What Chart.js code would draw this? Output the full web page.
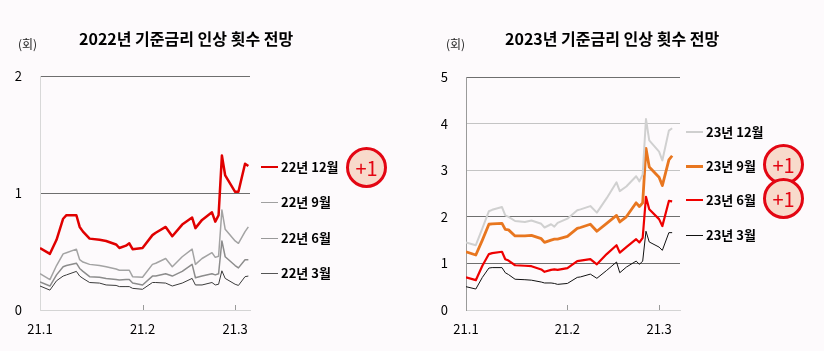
<!DOCTYPE html>
<html>
<head>
<meta charset="utf-8">
<script src="https://cdn.jsdelivr.net/npm/chart.js@4.4.1/dist/chart.umd.min.js"></script>
<style>
  html, body { margin: 0; padding: 0; background: #fdfafc; }
  body { width: 824px; height: 351px; position: relative; overflow: hidden;
         font-family: "Noto Sans CJK KR", "Noto Sans", sans-serif; color: #111; }
  canvas { position: absolute; top: 0; }
  .title { position: absolute; top: 26px; font-size: 16px; font-weight: bold; white-space: nowrap; color: #000; }
  .unit { position: absolute; top: 35px; font-size: 12px; color: #222; }
  .leg { position: absolute; font-size: 13px; line-height: 16px; white-space: nowrap; font-weight: bold; color: #000; }
  .leg i { display: inline-block; width: 17px; height: 2px; vertical-align: middle; margin-right: 3px; position: relative; top: -1px; }
  .badge { position: absolute; width: 35px; height: 35px; border: 3.5px solid #e30613; border-radius: 50%;
           background: #f8dacb; color: #e30613; font-size: 20px; line-height: 35px; text-align: center; }
</style>
</head>
<body>
<canvas id="c2022" width="412" height="351" style="left:0"></canvas>
<canvas id="c2023" width="412" height="351" style="left:412px"></canvas>

<div class="title" style="left:79px">2022년 기준금리 인상 횟수 전망</div>
<div class="unit" style="left:18px">(회)</div>
<div class="title" style="left:505px">2023년 기준금리 인상 횟수 전망</div>
<div class="unit" style="left:446px">(회)</div>

<div class="leg" style="left:261px;top:159px"><i style="background:#e00000"></i>22년 12월</div>
<div class="leg" style="left:261px;top:194px"><i style="background:#a0a0a0;height:1.5px"></i>22년 9월</div>
<div class="leg" style="left:261px;top:230px"><i style="background:#999;height:1.5px"></i>22년 6월</div>
<div class="leg" style="left:261px;top:265px"><i style="background:#555;height:1.5px"></i>22년 3월</div>
<div class="badge" style="left:346px;top:147px">+1</div>

<div class="leg" style="left:686px;top:124px"><i style="background:#cfcfcf"></i>23년 12월</div>
<div class="leg" style="left:686px;top:158px"><i style="background:#e8761f;height:3px"></i>23년 9월</div>
<div class="leg" style="left:686px;top:192px"><i style="background:#f00000"></i>23년 6월</div>
<div class="leg" style="left:686px;top:227px"><i style="background:#111;height:1.5px"></i>23년 3월</div>
<div class="badge" style="left:763px;top:144px">+1</div>
<div class="badge" style="left:763px;top:178px">+1</div>

<script>
// 날짜 (2021.1.1 기준 경과일) 및 축 라벨
const days = [0, 3, 5, 7, 8, 11, 12, 13, 15, 18, 20, 23, 24, 26, 27, 28, 31, 34, 35, 38, 40, 43, 46, 47, 49, 52, 53, 54, 55, 56, 59, 60, 62, 63];
const monthStarts = [0, 31, 59];
const monthLabels = ['21.1', '21.2', '21.3'];

// 2022년 인상 횟수 전망
const y22Dec = [0.53, 0.48, 0.60, 0.78, 0.81, 0.81, 0.71, 0.67, 0.61, 0.60, 0.59, 0.56, 0.53, 0.55, 0.57, 0.52, 0.53, 0.64, 0.66, 0.71, 0.63, 0.73, 0.79, 0.70, 0.77, 0.835, 0.755, 0.81, 1.32, 1.15, 1.01, 1.01, 1.25, 1.23];
const y22Sep = [0.31, 0.26, 0.38, 0.48, 0.49, 0.52, 0.43, 0.41, 0.39, 0.38, 0.37, 0.35, 0.34, 0.34, 0.34, 0.285, 0.28, 0.39, 0.40, 0.44, 0.37, 0.455, 0.52, 0.39, 0.44, 0.49, 0.45, 0.46, 0.855, 0.69, 0.59, 0.57, 0.67, 0.71];
const y22Jun = [0.24, 0.205, 0.30, 0.37, 0.38, 0.40, 0.355, 0.33, 0.285, 0.28, 0.27, 0.26, 0.256, 0.26, 0.26, 0.23, 0.214, 0.29, 0.29, 0.31, 0.29, 0.33, 0.39, 0.276, 0.29, 0.31, 0.30, 0.31, 0.59, 0.455, 0.38, 0.36, 0.43, 0.43];
const y22Mar = [0.205, 0.17, 0.25, 0.29, 0.30, 0.33, 0.29, 0.27, 0.235, 0.23, 0.214, 0.21, 0.20, 0.20, 0.20, 0.185, 0.177, 0.235, 0.235, 0.23, 0.205, 0.23, 0.27, 0.214, 0.214, 0.235, 0.214, 0.22, 0.335, 0.27, 0.22, 0.21, 0.285, 0.29];

// 2023년 인상 횟수 전망
const y23Dec = [1.45, 1.39, 1.75, 2.12, 2.15, 2.21, 2.03, 2.00, 1.91, 1.89, 1.92, 1.85, 1.77, 1.84, 1.79, 1.87, 1.96, 2.14, 2.16, 2.23, 2.09, 2.40, 2.74, 2.55, 2.65, 2.87, 2.76, 2.91, 4.10, 3.64, 3.40, 3.21, 3.85, 3.90];
const y23Sep = [1.25, 1.18, 1.50, 1.84, 1.85, 1.86, 1.73, 1.72, 1.59, 1.59, 1.60, 1.53, 1.45, 1.50, 1.52, 1.52, 1.58, 1.75, 1.77, 1.84, 1.69, 1.86, 2.03, 1.89, 2.00, 2.30, 2.22, 2.30, 3.47, 3.07, 2.85, 2.67, 3.22, 3.31];
const y23Jun = [0.70, 0.64, 0.95, 1.20, 1.22, 1.25, 1.09, 1.06, 0.96, 0.95, 0.94, 0.87, 0.82, 0.86, 0.87, 0.86, 0.90, 1.05, 1.06, 1.09, 0.98, 1.20, 1.39, 1.23, 1.35, 1.52, 1.45, 1.55, 2.43, 2.16, 1.95, 1.80, 2.34, 2.33];
const y23Mar = [0.50, 0.45, 0.70, 0.90, 0.91, 0.91, 0.80, 0.76, 0.66, 0.65, 0.64, 0.60, 0.58, 0.58, 0.57, 0.55, 0.57, 0.70, 0.71, 0.77, 0.68, 0.85, 1.03, 0.80, 0.92, 1.05, 0.98, 1.05, 1.69, 1.46, 1.35, 1.28, 1.66, 1.66];

const FONT = '"Noto Sans CJK KR", "Noto Sans", sans-serif';

function toPoints(vals) {
    return days.map((d, i) => ({ x: d, y: vals[i] }));
}

function line(vals, color, width) {
    return {
        data: toPoints(vals),
        borderColor: color,
        borderWidth: width,
        pointRadius: 0,
        tension: 0,
        borderJoinStyle: 'round',
        fill: false
    };
}

// x축 눈금을 안쪽(위쪽)으로 짧게 그림
const innerTicks = {
    id: 'innerTicks',
    afterDraw(chart) {
        const ctx = chart.ctx;
        const xs = chart.scales.x;
        const bottom = chart.chartArea.bottom;
        ctx.save();
        ctx.strokeStyle = '#9a9a9a';
        ctx.lineWidth = 1;
        monthStarts.slice(1).forEach(v => {
            const px = Math.round(xs.getPixelForValue(v)) + 0.5;
            ctx.beginPath();
            ctx.moveTo(px, bottom);
            ctx.lineTo(px, bottom - 5);
            ctx.stroke();
        });
        ctx.restore();
    }
};

function makeChart(id, datasets, cfg) {
    return new Chart(document.getElementById(id), {
        type: 'line',
        data: { datasets: datasets },
        plugins: [innerTicks],
        options: {
            responsive: false,
            devicePixelRatio: 1,
            animation: false,
            layout: { padding: { top: cfg.top, right: cfg.right, left: 0, bottom: 0 } },
            plugins: { legend: { display: false }, tooltip: { enabled: false } },
            scales: {
                x: {
                    type: 'linear',
                    min: 0,
                    max: cfg.xMax,
                    afterBuildTicks: s => { s.ticks = monthStarts.map(v => ({ value: v })); },
                    afterFit: s => { s.height = 41; },
                    ticks: {
                        callback: v => monthLabels[monthStarts.indexOf(v)],
                        font: { family: FONT, size: 13 },
                        color: '#000',
                        padding: 11,
                        maxRotation: 0,
                        autoSkip: false
                    },
                    grid: { drawOnChartArea: false, drawTicks: false },
                    border: { color: '#d4d4d4' }
                },
                y: {
                    min: 0,
                    max: cfg.yMax,
                    afterFit: s => { s.width = cfg.left; },
                    ticks: {
                        stepSize: 1,
                        font: { family: FONT, size: 13 },
                        color: '#000',
                        padding: 18
                    },
                    grid: {
                        drawTicks: false,
                        color: c => cfg.gridColor(c.tick.value)
                    },
                    border: { color: cfg.axisColor }
                }
            }
        }
    });
}

makeChart('c2022', [
    line(y22Mar, '#3a3a3a', 1),
    line(y22Jun, '#8c8c8c', 1.5),
    line(y22Sep, '#a3a3a3', 1.5),
    line(y22Dec, '#e00000', 2.5)
], {
    top: 76, right: 162, left: 40, xMax: 63.5, yMax: 2, axisColor: '#d8d8d8',
    gridColor: v => v === 0 ? 'rgba(0,0,0,0)' : '#6e6e6e'
});

makeChart('c2023', [
    line(y23Dec, '#d0d0d0', 2),
    line(y23Mar, '#111111', 1),
    line(y23Jun, '#ee0000', 2.2),
    line(y23Sep, '#e8761f', 2.8)
], {
    top: 77, right: 144, left: 54, xMax: 65.4, yMax: 5, axisColor: '#9a9a9a',
    gridColor: v => v === 0 ? 'rgba(0,0,0,0)' : (v === 3 || v === 4 ? '#c4c4c4' : '#6e6e6e')
});
</script>
</body>
</html>
